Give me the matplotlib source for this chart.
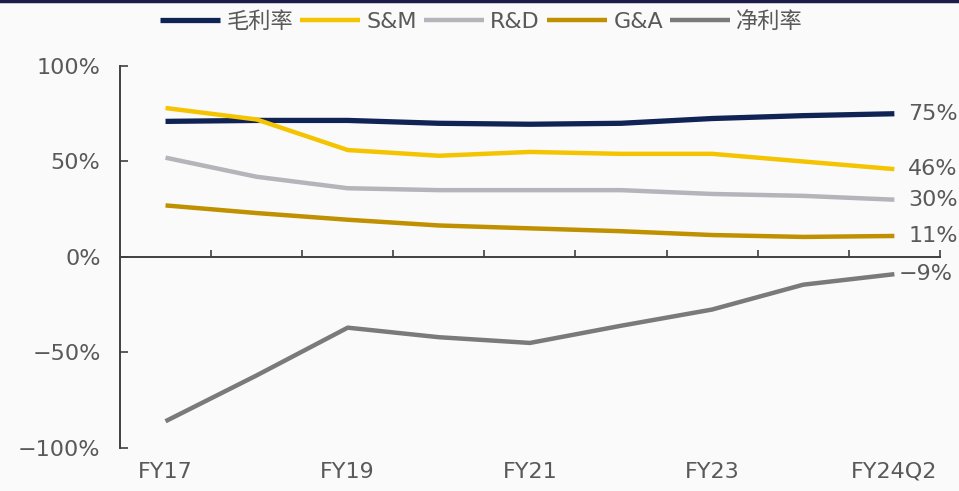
import matplotlib
matplotlib.use("Agg")
import matplotlib.pyplot as plt
from matplotlib.lines import Line2D

plt.rcParams['font.family'] = ['DejaVu Sans', 'Noto Sans CJK SC']

periods = ['FY17', 'FY18', 'FY19', 'FY20', 'FY21', 'FY22', 'FY23', 'FY24Q1', 'FY24Q2']
shown_periods = ['FY17', 'FY19', 'FY21', 'FY23', 'FY24Q2']

gross_margin = [71, 71.5, 71.5, 70, 69.5, 70, 72.5, 74, 75]
sm_ratio = [78, 72, 56, 53, 55, 54, 54, 50, 46]
rd_ratio = [52, 42, 36, 35, 35, 35, 33, 32, 30]
ga_ratio = [27, 23, 19.5, 16.5, 15, 13.5, 11.5, 10.5, 11]
net_margin = [-86, -62, -37, -42, -45, -36, -27.5, -14.5, -9]

series = [
    ('毛利率', gross_margin, '#0f2355', 3.8),
    ('S&M', sm_ratio, '#f5c400', 3.2),
    ('R&D', rd_ratio, '#b4b4ba', 3.2),
    ('G&A', ga_ratio, '#bf9000', 3.2),
    ('净利率', net_margin, '#7a7a7a', 3.2),
]

text_color = '#595959'
axis_color = '#404040'

fig = plt.figure(figsize=(9.59, 4.91), dpi=100)
fig.patch.set_facecolor('#fafafa')
ax = fig.add_axes([0.1251, 0.0876, 0.855, 0.778])
ax.set_facecolor('#fafafa')

x = list(range(len(periods)))
for name, values, color, lw in series:
    ax.plot(x, values, color=color, lw=lw, label=name,
            solid_joinstyle='round', solid_capstyle='butt')
    last = values[-1]
    txt = f'{last:.0f}%'.replace('-', '\u2212')
    # negative label sits tight to the line end so it stays inside the figure
    offset = 3 if last < 0 else 10
    ax.annotate(txt, (x[-1], last), xytext=(offset, 0), textcoords='offset points',
                va='center', ha='left', fontsize=16, color=text_color,
                annotation_clip=False)

ax.set_xlim(-0.5, len(periods) - 0.5)
ax.set_ylim(-100, 100)

# axis spines
for side in ['top', 'right']:
    ax.spines[side].set_visible(False)
ax.spines['left'].set_color(axis_color)
ax.spines['left'].set_linewidth(1.4)
ax.spines['bottom'].set_position(('data', 0))
ax.spines['bottom'].set_color(axis_color)
ax.spines['bottom'].set_linewidth(1.4)

ax.set_yticks([-100, -50, 0, 50, 100])
ax.set_yticklabels(['\u2212100%', '\u221250%', '0%', '50%', '100%'])
ax.tick_params(axis='y', direction='in', length=6, width=1.2, color=axis_color,
               labelsize=16, labelcolor=text_color, pad=14)

# category boundaries on the zero line
ax.set_xticks([i + 0.5 for i in x])
ax.set_xticklabels([])
ax.tick_params(axis='x', direction='in', length=5, width=1.2, color=axis_color)

# period labels along the bottom
sec = ax.secondary_xaxis('bottom')
sec.set_xticks([periods.index(p) for p in shown_periods])
sec.set_xticklabels(shown_periods)
sec.spines['bottom'].set_visible(False)
sec.tick_params(length=0, labelsize=16, labelcolor=text_color, pad=10)

fig.legend(loc='center', bbox_to_anchor=(0.502, 0.957), ncol=5, frameon=False,
           fontsize=16, handlelength=2.7, handletextpad=0.3, columnspacing=0.3,
           labelcolor=text_color)

fig.add_artist(Line2D([0, 1], [0.997, 0.997], transform=fig.transFigure,
                      color='#1c1c4a', lw=2.5))

fig.savefig('out.png', dpi=100, facecolor=fig.get_facecolor())
